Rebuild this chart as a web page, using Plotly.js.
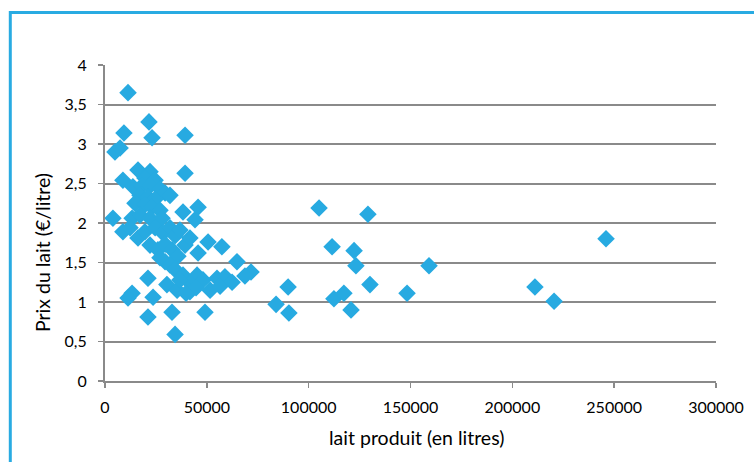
<!DOCTYPE html>
<html>
<head>
<meta charset="utf-8">
<script src="https://cdn.plot.ly/plotly-3.0.1.min.js"></script>
<style>
  html, body { margin: 0; padding: 0; background: #fff; }
  #chart { width: 754px; height: 462px; }
</style>
</head>
<body>
<div id="chart"></div>
<script>
// Lait produit (litres)
const laitProduit = [
  11300, 21600, 9300, 23100, 39300, 4900, 7400, 16200, 22100, 39300,
  8800, 19600, 24600, 13700, 18200, 22100, 27000, 29500, 31900, 17200,
  21100, 24600, 14700, 19600, 23100, 27000, 45700, 38300, 3900, 13300,
  17200, 22100, 28000, 44200, 8800, 12300, 16200, 19600, 24600, 28500,
  31900, 34400, 36800, 39300, 41700, 22100, 26000, 29500, 32900, 35800,
  50600, 57400, 45700, 64800, 71700, 68700, 29500, 31900, 27000, 34400,
  38300, 45200, 48100, 55000, 58900, 62400, 41700, 51600, 41700, 21100,
  30400, 35400, 13300, 11300, 23600, 44700, 56500, 21100, 32900, 49100,
  34400, 39800, 36800,
  105100, 129100, 111500, 122300, 123200, 159100, 84000, 89900, 90300, 112400,
  117300, 120800, 130100, 148300, 211100, 220500, 246000
];
// Prix du lait (€/litre)
const prixLait = [
  3.65, 3.28, 3.14, 3.08, 3.11, 2.90, 2.95, 2.67, 2.65, 2.63,
  2.54, 2.57, 2.54, 2.46, 2.47, 2.47, 2.43, 2.38, 2.35, 2.35,
  2.33, 2.30, 2.25, 2.23, 2.20, 2.16, 2.20, 2.14, 2.06, 2.06,
  2.10, 2.06, 2.06, 2.04, 1.89, 1.94, 1.81, 1.89, 1.94, 1.87,
  1.94, 1.84, 1.91, 1.72, 1.81, 1.72, 1.66, 1.73, 1.66, 1.58,
  1.76, 1.70, 1.62, 1.51, 1.38, 1.33, 1.51, 1.47, 1.56, 1.41,
  1.34, 1.34, 1.28, 1.30, 1.32, 1.25, 1.24, 1.15, 1.13, 1.30,
  1.22, 1.15, 1.11, 1.05, 1.06, 1.18, 1.20, 0.81, 0.87, 0.87,
  0.59, 1.11, 1.28,
  2.19, 2.11, 1.70, 1.65, 1.46, 1.46, 0.97, 1.19, 0.86, 1.04,
  1.11, 0.90, 1.22, 1.11, 1.19, 1.01, 1.80
];
const xTickVals = [0, 50000, 100000, 150000, 200000, 250000, 300000];
const yTickVals = [0, 0.5, 1, 1.5, 2, 2.5, 3, 3.5, 4];
const xTitle = 'lait produit (en litres)';
const yTitle = 'Prix du lait (€/litre)';

const blue = '#27aae1';
const fontFam = 'Lato, "Open Sans", sans-serif';

const trace = {
  type: 'scatter',
  mode: 'markers',
  x: laitProduit,
  y: prixLait,
  marker: { symbol: 'diamond', size: 13.5, color: blue, line: { width: 0 } },
  hoverinfo: 'x+y'
};

const layout = {
  width: 754,
  height: 462,
  margin: { l: 105, r: 38, t: 65, b: 81 },
  paper_bgcolor: '#ffffff',
  plot_bgcolor: '#ffffff',
  separators: ', ',
  showlegend: false,
  font: { family: fontFam, size: 16, color: '#000' },
  xaxis: {
    range: [0, 300000],
    tickvals: xTickVals,
    tickformat: 'd',
    showgrid: false,
    zeroline: false,
    showline: true,
    linecolor: '#8a8a8a',
    linewidth: 2,
    ticks: 'outside',
    ticklen: 5,
    tickcolor: '#8a8a8a',
    tickwidth: 1.5,
    ticklabelstandoff: 6,
    tickfont: { family: fontFam, size: 16, color: '#000' },
    fixedrange: true
  },
  yaxis: {
    range: [0, 4],
    tickvals: yTickVals,
    showgrid: true,
    gridcolor: '#8a8a8a',
    gridwidth: 2,
    zeroline: false,
    showline: true,
    linecolor: '#8a8a8a',
    linewidth: 2,
    ticks: 'outside',
    ticklen: 5,
    tickcolor: '#8a8a8a',
    tickwidth: 1.5,
    ticklabelstandoff: 8,
    tickfont: { family: fontFam, size: 16, color: '#000' },
    fixedrange: true
  },
  annotations: [
    {
      text: xTitle, xref: 'paper', yref: 'paper', x: 0.5, y: 0,
      xanchor: 'center', yanchor: 'middle', xshift: 6, yshift: -56,
      showarrow: false, font: { family: fontFam, size: 19.5, color: '#000' }
    },
    {
      text: yTitle, xref: 'paper', yref: 'paper', x: 0, y: 0.405,
      xanchor: 'center', yanchor: 'middle', xshift: -63, textangle: -90,
      showarrow: false, font: { family: fontFam, size: 19.5, color: '#000' }
    }
  ],
  shapes: [
    {
      type: 'rect', xref: 'paper', yref: 'paper',
      x0: -0.155, x1: 1.2, y0: -0.5, y1: 1.166,
      line: { color: '#29abe2', width: 3 }, fillcolor: 'rgba(0,0,0,0)',
      layer: 'below'
    }
  ]
};

Plotly.newPlot('chart', [trace], layout, { displayModeBar: false, staticPlot: true });
</script>
</body>
</html>
